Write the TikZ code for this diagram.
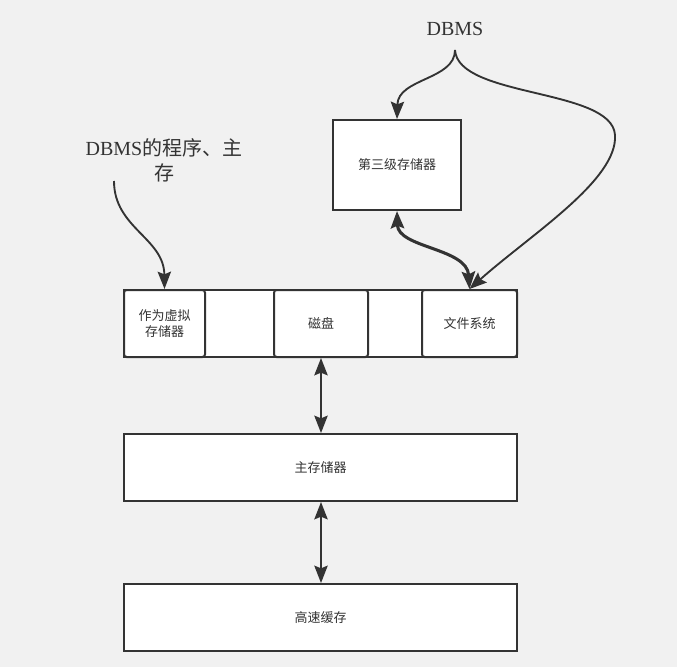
\documentclass[tikz,border=0pt]{standalone}
\usepackage{fontspec}
\setmainfont{Liberation Serif}
\newfontfamily\cjk{Noto Sans CJK SC}
\usetikzlibrary{arrows.meta}
\definecolor{bgc}{HTML}{F1F1F1}
\definecolor{ink}{HTML}{333333}

\begin{document}
\begin{tikzpicture}[x=0.75pt,y=-0.75pt,
    box/.style={draw=ink,line width=1.5pt,fill=white,inner sep=0pt,text=ink,align=center,
      font=\cjk\fontsize{9.75}{12}\selectfont},
    cell/.style={box,rounded corners=2pt,minimum height=50.25pt},
    row/.style={box,minimum width=294.75pt,minimum height=50.25pt},
    big/.style={text=ink,align=center,font=\fontsize{15}{18.75}\selectfont},
    tip/.tip={Stealth[length=13pt,width=10pt,inset=2pt]},
    arr/.style={draw=ink,line width=1.4pt,-tip},
    dbl/.style={draw=ink,line width=1.5pt,tip-tip}]
    \path[use as bounding box,fill=bgc] (0,0) rectangle (677,667);

    \node[row] (disk) at (320.5,323.5) {};
    \node[cell,minimum width=60.75pt] (vm) at (164.5,323.5) {作为虚拟\\存储器};
    \node[cell,minimum width=70.5pt] (mag) at (321,323.5) {磁盘};
    \node[cell,minimum width=71.25pt] (fs) at (469.5,323.5) {文件系统};
    \node[box,minimum width=96pt,minimum height=67.5pt] (tert) at (397,165) {第三级存储器};
    \node[row] (mem) at (320.5,467.5) {主存储器};
    \node[row] (cache) at (320.5,617.5) {高速缓存};

    \node[big] (dbms) at (455,29) {DBMS};
    \node[big] (prog) at (164,160) {DBMS{\cjk 的程序、主}\\{\cjk 存}};
    \coordinate (pfoot) at (114,181);
    \coordinate (dfoot) at (455,50);

    \draw[arr] (dfoot) .. controls (455,80) and (398,78) .. (tert.north);
    \draw[arr] (dfoot) .. controls (458,98) and (612,88) .. (615,135)
      .. controls (618,180) and (530,235) .. (fs.north);
    \draw[dbl,line width=2.3pt] (tert.south) .. controls (398,248) and (467,248) .. (fs.north);
    \draw[arr] (pfoot) .. controls (114,228) and (164,238) .. (vm.north);

    \draw[dbl] (mag.south) -- (mag.south |- mem.north);
    \draw[dbl] (mem.south -| mag.south) -- (mag.south |- cache.north);
  \end{tikzpicture}
\end{document}
